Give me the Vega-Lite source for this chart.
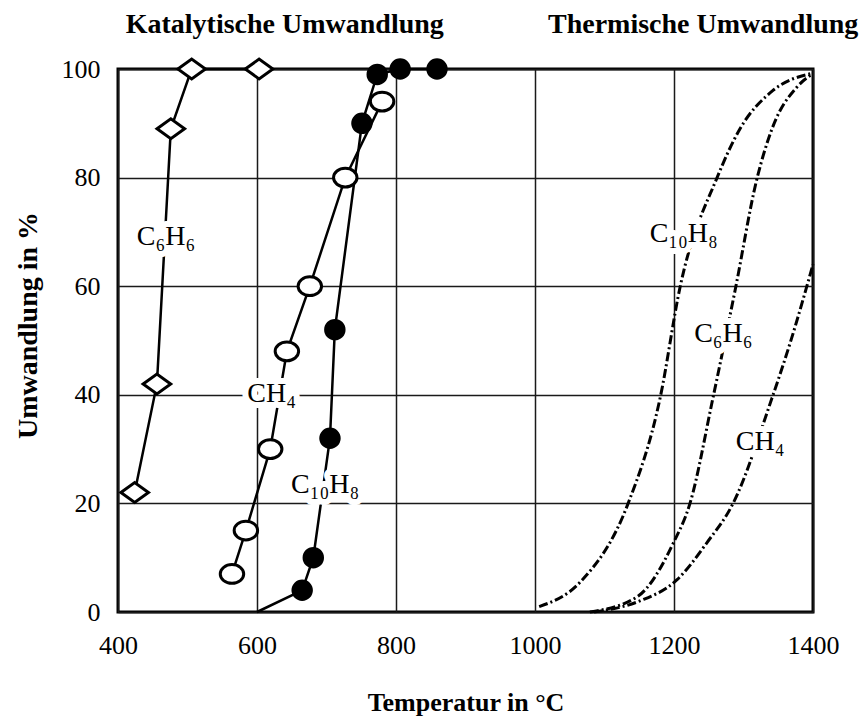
{
  "$schema": "https://vega.github.io/schema/vega-lite/v6.json",
  "width": 695,
  "height": 543,
  "autosize": "none",
  "padding": {"left": 118, "top": 69, "right": 55, "bottom": 108},
  "background": "white",
  "config": {
    "font": "Liberation Serif",
    "view": {"stroke": "black", "strokeWidth": 3},
    "axis": {
      "grid": true,
      "gridColor": "#1a1a1a",
      "gridWidth": 1.5,
      "gridOpacity": 1,
      "domain": false,
      "ticks": false,
      "tickSize": 0,
      "labelFont": "Liberation Serif",
      "labelFontSize": 26,
      "labelColor": "black",
      "titleFont": "Liberation Serif",
      "titleColor": "black",
      "titleFontWeight": "bold"
    }
  },
  "datasets": {
    "kat": [
      {"s": "C6H6", "T": 424, "U": 22, "m": "diamond"},
      {"s": "C6H6", "T": 456, "U": 42, "m": "diamond"},
      {"s": "C6H6", "T": 476, "U": 89, "m": "diamond"},
      {"s": "C6H6", "T": 506, "U": 100, "m": "diamond"},
      {"s": "C6H6", "T": 603, "U": 100, "m": "diamond"},
      {"s": "CH4", "T": 564, "U": 7, "m": "oval"},
      {"s": "CH4", "T": 584, "U": 15, "m": "oval"},
      {"s": "CH4", "T": 619, "U": 30, "m": "oval"},
      {"s": "CH4", "T": 643, "U": 48, "m": "oval"},
      {"s": "CH4", "T": 676, "U": 60, "m": "oval"},
      {"s": "CH4", "T": 727, "U": 80, "m": "oval"},
      {"s": "CH4", "T": 780, "U": 94, "m": "oval"},
      {"s": "C10H8", "T": 600, "U": 0, "m": "none"},
      {"s": "C10H8", "T": 665, "U": 4, "m": "dot"},
      {"s": "C10H8", "T": 681, "U": 10, "m": "dot"},
      {"s": "C10H8", "T": 705, "U": 32, "m": "dot"},
      {"s": "C10H8", "T": 712, "U": 52, "m": "dot"},
      {"s": "C10H8", "T": 751, "U": 90, "m": "dot"},
      {"s": "C10H8", "T": 773, "U": 99, "m": "dot"},
      {"s": "C10H8", "T": 806, "U": 100, "m": "dot"},
      {"s": "C10H8", "T": 859, "U": 100, "m": "dot"}
    ],
    "therm": [
      {"s": "C10H8", "T": 1006, "U": 1},
      {"s": "C10H8", "T": 1065, "U": 5.5},
      {"s": "C10H8", "T": 1134, "U": 20},
      {"s": "C10H8", "T": 1180, "U": 39.4},
      {"s": "C10H8", "T": 1209, "U": 60},
      {"s": "C10H8", "T": 1262, "U": 80},
      {"s": "C10H8", "T": 1295, "U": 89},
      {"s": "C10H8", "T": 1342, "U": 96},
      {"s": "C10H8", "T": 1398, "U": 99.2},
      {"s": "C6H6", "T": 1079, "U": 0},
      {"s": "C6H6", "T": 1147, "U": 2.8},
      {"s": "C6H6", "T": 1199, "U": 12.7},
      {"s": "C6H6", "T": 1223, "U": 20},
      {"s": "C6H6", "T": 1256, "U": 39.4},
      {"s": "C6H6", "T": 1288, "U": 59.3},
      {"s": "C6H6", "T": 1319, "U": 79.6},
      {"s": "C6H6", "T": 1342, "U": 89.3},
      {"s": "C6H6", "T": 1377, "U": 96.7},
      {"s": "C6H6", "T": 1398, "U": 99},
      {"s": "CH4", "T": 1085, "U": 0},
      {"s": "CH4", "T": 1150, "U": 2},
      {"s": "CH4", "T": 1204, "U": 5.9},
      {"s": "CH4", "T": 1247, "U": 12.7},
      {"s": "CH4", "T": 1285, "U": 20},
      {"s": "CH4", "T": 1341, "U": 39.4},
      {"s": "CH4", "T": 1367, "U": 49.5},
      {"s": "CH4", "T": 1400, "U": 64}
    ],
    "labels": [
      {"t": "C₆H₆", "T": 469, "U": 67.6},
      {"t": "CH₄", "T": 621, "U": 38.7},
      {"t": "C₁₀H₈", "T": 698, "U": 21.9},
      {"t": "C₁₀H₈", "T": 1214, "U": 68.1},
      {"t": "C₆H₆", "T": 1271, "U": 49.7},
      {"t": "CH₄", "T": 1324, "U": 29.8}
    ],
    "tops": [
      {"t": "Katalytische Umwandlung", "T": 640, "U": 106.6},
      {"t": "Thermische Umwandlung", "T": 1242, "U": 106.6}
    ]
  },
  "layer": [
    {
      "data": {"name": "kat"},
      "mark": {"type": "line", "color": "black", "strokeWidth": 2.5},
      "encoding": {
        "x": {
          "field": "T", "type": "quantitative",
          "scale": {"domain": [400, 1400], "nice": false, "zero": false},
          "axis": {
            "values": [400, 600, 800, 1000, 1200, 1400],
            "format": "d",
            "labelPadding": 20,
            "labelFlush": false,
            "title": "Temperatur in °C",
            "titleFontSize": 26,
            "titleBaseline": "alphabetic",
            "titleY": 98
          }
        },
        "y": {
          "field": "U", "type": "quantitative",
          "scale": {"domain": [0, 100], "nice": false},
          "axis": {
            "values": [0, 20, 40, 60, 80, 100],
            "format": "d",
            "labelPadding": 18,
            "labelFlush": false,
            "title": "Umwandlung  in %",
            "titleFontSize": 28,
            "titleAngle": 270,
            "titleBaseline": "middle",
            "titleX": -90,
            "titleY": 256
          }
        },
        "detail": {"field": "s"}
      }
    },
    {
      "data": {"name": "therm"},
      "mark": {"type": "line", "color": "black", "strokeWidth": 3, "strokeDash": [9, 3, 2, 3], "interpolate": "monotone"},
      "encoding": {
        "x": {"field": "T", "type": "quantitative"},
        "y": {"field": "U", "type": "quantitative"},
        "detail": {"field": "s"}
      }
    },
    {
      "data": {"name": "kat"},
      "transform": [{"filter": "datum.m !== 'none'"}],
      "mark": {"type": "point", "filled": true, "stroke": "black", "strokeWidth": 3, "opacity": 1},
      "encoding": {
        "x": {"field": "T", "type": "quantitative"},
        "y": {"field": "U", "type": "quantitative"},
        "shape": {
          "field": "m", "type": "nominal", "legend": null,
          "scale": {"domain": ["diamond", "oval", "dot"], "range": ["M -1 0 L 0 -0.72 L 1 0 L 0 0.72 Z", "M -1 0 A 1 0.8 0 1 0 1 0 A 1 0.8 0 1 0 -1 0 Z", "circle"]}
        },
        "fill": {
          "field": "m", "type": "nominal", "legend": null,
          "scale": {"domain": ["diamond", "oval", "dot"], "range": ["white", "white", "black"]}
        },
        "size": {
          "field": "m", "type": "nominal", "legend": null,
          "scale": {"domain": ["diamond", "oval", "dot"], "range": [760, 340, 440]}
        }
      }
    },
    {
      "data": {"name": "labels"},
      "mark": {"type": "text", "font": "Liberation Serif", "fontSize": 28, "align": "center", "baseline": "alphabetic", "fill": "white", "stroke": "white", "strokeWidth": 12, "strokeJoin": "round"},
      "encoding": {
        "x": {"field": "T", "type": "quantitative"},
        "y": {"field": "U", "type": "quantitative"},
        "text": {"field": "t"}
      }
    },
    {
      "data": {"name": "labels"},
      "mark": {"type": "text", "font": "Liberation Serif", "fontSize": 28, "align": "center", "baseline": "alphabetic", "color": "black"},
      "encoding": {
        "x": {"field": "T", "type": "quantitative"},
        "y": {"field": "U", "type": "quantitative"},
        "text": {"field": "t"}
      }
    },
    {
      "data": {"name": "tops"},
      "mark": {"type": "text", "font": "Liberation Serif", "fontSize": 28, "fontWeight": "bold", "align": "center", "baseline": "alphabetic", "color": "black"},
      "encoding": {
        "x": {"field": "T", "type": "quantitative"},
        "y": {"field": "U", "type": "quantitative"},
        "text": {"field": "t"}
      }
    }
  ]
}
